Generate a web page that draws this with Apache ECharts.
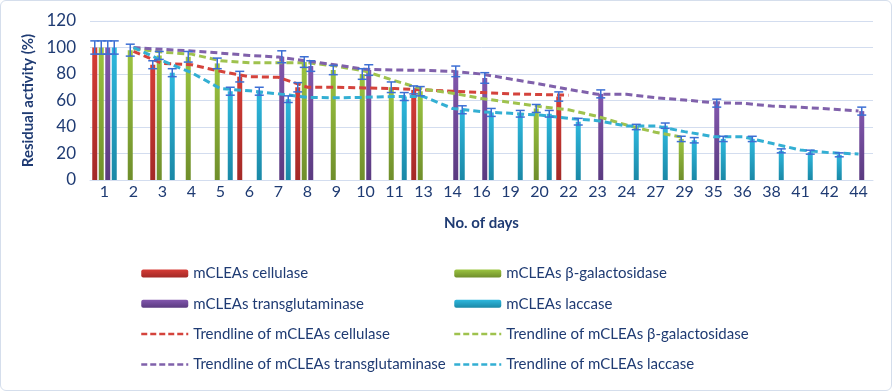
<!DOCTYPE html>
<html>
<head>
<meta charset="utf-8">
<script src="https://cdn.jsdelivr.net/npm/echarts@6/dist/echarts.min.js"></script>
<style>
  html, body { margin: 0; padding: 0; background: #fff; }
  #chart { width: 892px; height: 391px; box-sizing: border-box; border: 1px solid #d5deec; border-radius: 6px; }
</style>
</head>
<body>
<div id="chart"></div>
<script>
// days on the x axis
const days = ['1','2','3','4','5','6','7','8','9','10','11','13','14','16','19','20','22','23','24','27','29','35','36','38','41','42','44'];

// residual activity (%) per enzyme, null = not measured
const cellulase       = [100,null,87,null,null,78,null,70,null,null,null,68,null,null,null,null,63,null,null,null,null,null,null,null,null,null,null];
const cellulaseErr    = [5,null,3,null,null,4,null,3.5,null,null,null,3,null,null,null,null,3.5,null,null,null,null,null,null,null,null,null,null];
const galactosidase    = [100,98,94,93,88,null,null,89,83,80,70,67,null,null,null,54,null,null,null,null,31,null,null,null,null,null,null];
const galactosidaseErr = [5,4.5,3,4,4,null,null,4,3.5,4,4,3.5,null,null,null,3,null,null,null,null,2,null,null,null,null,null,null];
const transglut       = [100,null,null,null,null,null,93,86,null,83,null,null,82,77,null,null,null,65,null,null,null,58,null,null,null,null,52];
const transglutErr    = [5,null,null,null,null,null,4.5,4,null,4,null,null,4,4,null,null,null,3,null,null,null,3,null,null,null,null,3];
const laccase         = [100,null,81,null,67,67,61,null,null,null,63,null,53,51,50,50,44,null,40,41,30,31,31,22,21,19,null];
const laccaseErr      = [5,null,3,null,3,3,2.5,null,null,null,3,null,3,3,2.5,2.5,2.5,null,2,2,2,2,2,1.5,1.5,1.5,null];

// trendlines at each day
const trendCellulase  = [null,97,88,87,82,78,77.5,70,70,69.5,69,68,67,66,65,64.5,64,null,null,null,null,null,null,null,null,null,null];
const trendGalacto    = [null,99,96.5,95,90,88.5,88.5,88.5,86,82,75,68.5,65.5,61.5,58.5,55.5,53,48,41.5,36,32,null,null,null,null,null,null];
const trendTransglut  = [null,100,98.6,97.4,95.8,94,92.8,89.8,86.8,83.5,83,82.8,82,80,76.2,72.5,68.4,64.7,64.7,62.1,60.4,58.3,57.9,55.8,54.9,53.6,52.1];
const trendLaccase    = [null,100,90,81,69,67.3,65,62.4,62,62.4,63,63,54,51.5,50.3,49,46.5,44.8,40.8,40.8,36.5,32.7,32.7,27.7,22.6,20.6,19.6];

const navy = '#1f3b73';
const errColor = '#3c6fd4';
const barW = 5, barGapRatio = 0.3;

function grad(top, bottom) {
  return new echarts.graphic.LinearGradient(0, 0, 0, 1, [
    { offset: 0, color: top }, { offset: 1, color: bottom }
  ]);
}
const colRed = grad('#d63d37', '#a32926');
const colGreen = grad('#9cc541', '#6f8e2b');
const colPurple = grad('#8257ad', '#5a3a80');
const colCyan = grad('#2eb8de', '#1a88a6');

function barSeries(name, values, color) {
  return { name, type: 'bar', data: values, barWidth: barW, barGap: (barGapRatio * 100) + '%',
    itemStyle: { color } };
}

function trendSeries(name, values, color) {
  return { name, type: 'line', data: values, symbol: 'none', showSymbol: false, connectNulls: true, z: 5,
    lineStyle: { color, width: 3, type: [7, 4] }, itemStyle: { color } };
}

// error bars, shifted to the slot of their bar inside each day group
function errSeries(name, slot, values, errs) {
  const data = [];
  values.forEach((v, i) => { if (v != null) data.push([i, v, errs[i]]); });
  const step = barW * (1 + barGapRatio);
  const offset = -1.5 * step + slot * step;
  return {
    name, type: 'custom', z: 10, data, encode: { x: 0, y: 1 },
    renderItem: (params, api) => {
      const i = api.value(0), v = api.value(1), e = api.value(2);
      const hi = api.coord([i, v + e]);
      const lo = api.coord([i, v - e]);
      const x = hi[0] + offset;
      const cap = 4.5;
      const st = { stroke: errColor, lineWidth: 1.5 };
      return { type: 'group', children: [
        { type: 'line', shape: { x1: x, y1: hi[1], x2: x, y2: lo[1] }, style: st },
        { type: 'line', shape: { x1: x - cap, y1: hi[1], x2: x + cap, y2: hi[1] }, style: st },
        { type: 'line', shape: { x1: x - cap, y1: lo[1], x2: x + cap, y2: lo[1] }, style: st }
      ] };
    }
  };
}

const legendText = { color: navy, fontSize: 15, fontFamily: 'Lato', lineHeight: 18 };
const trendItem = (name) => ({ name, itemStyle: { opacity: 0 }, lineStyle: { type: [6, 3], width: 2.5 } });

const chart = echarts.init(document.getElementById('chart'));
chart.setOption({
  animation: false,
  textStyle: { fontFamily: 'Lato' },
  grid: { left: 89, right: 18, top: 20, bottom: 210 },
  legend: [
    { orient: 'vertical', left: 139, top: 263.5, padding: 0, itemWidth: 47, itemHeight: 8, itemGap: 12.3,
      textStyle: legendText,
      data: ['mCLEAs cellulase', 'mCLEAs transglutaminase', trendItem('Trendline of mCLEAs cellulase'), trendItem('Trendline of mCLEAs transglutaminase')] },
    { orient: 'vertical', left: 452, top: 263.5, padding: 0, itemWidth: 47, itemHeight: 8, itemGap: 12.3,
      textStyle: legendText,
      data: ['mCLEAs β-galactosidase', 'mCLEAs laccase', trendItem('Trendline of mCLEAs β-galactosidase'), trendItem('Trendline of mCLEAs laccase')] }
  ],
  xAxis: {
    type: 'category', data: days,
    name: 'No. of days', nameLocation: 'middle', nameGap: 36,
    nameTextStyle: { color: navy, fontSize: 15, fontWeight: 'bold', fontFamily: 'Lato' },
    axisLine: { lineStyle: { color: '#d3ddef' } },
    axisTick: { show: false },
    axisLabel: { interval: 0, color: navy, fontSize: 16, margin: 4, fontFamily: 'Lato' }
  },
  yAxis: {
    type: 'value', min: 0, max: 120, interval: 20,
    name: 'Residual activity (%)', nameLocation: 'middle', nameGap: 44,
    nameTextStyle: { color: navy, fontSize: 15, fontWeight: 'bold', fontFamily: 'Lato' },
    axisLine: { show: false }, axisTick: { show: false },
    axisLabel: { color: navy, fontSize: 17, margin: 14, fontFamily: 'Lato' },
    splitLine: { lineStyle: { color: '#d3ddef' } }
  },
  series: [
    barSeries('mCLEAs cellulase', cellulase, colRed),
    barSeries('mCLEAs β-galactosidase', galactosidase, colGreen),
    barSeries('mCLEAs transglutaminase', transglut, colPurple),
    barSeries('mCLEAs laccase', laccase, colCyan),
    trendSeries('Trendline of mCLEAs cellulase', trendCellulase, '#d4433c'),
    trendSeries('Trendline of mCLEAs β-galactosidase', trendGalacto, '#9fc24e'),
    trendSeries('Trendline of mCLEAs transglutaminase', trendTransglut, '#8061ab'),
    trendSeries('Trendline of mCLEAs laccase', trendLaccase, '#33afd3'),
    errSeries('err cellulase', 0, cellulase, cellulaseErr),
    errSeries('err galactosidase', 1, galactosidase, galactosidaseErr),
    errSeries('err transglutaminase', 2, transglut, transglutErr),
    errSeries('err laccase', 3, laccase, laccaseErr)
  ]
});
</script>
</body>
</html>
